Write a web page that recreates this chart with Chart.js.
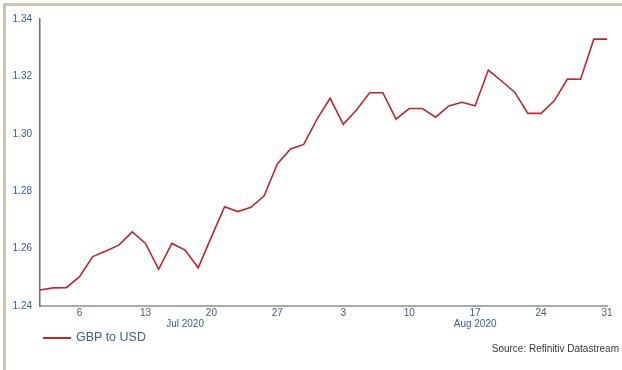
<!DOCTYPE html>
<html>
<head>
<meta charset="utf-8">
<script src="https://cdn.jsdelivr.net/npm/chart.js@4.4.0/dist/chart.umd.min.js"></script>
<style>
  html, body { margin: 0; padding: 0; background: #fff; }
  body { width: 622px; height: 370px; position: relative; overflow: hidden; font-family: "Liberation Sans", Arial, sans-serif; }
  #frame { position: absolute; left: 3px; top: 3px; width: 619px; height: 367px; border-top: 3px solid #cec4b4; border-left: 3px solid #cec4b4; box-sizing: border-box; }
  #wrap { position: absolute; left: 0; top: 0; width: 622px; height: 370px; }
  #legend { position: absolute; left: 43px; top: 329px; height: 16px; font-size: 12.5px; color: #3d5f86; }
  #legend .swatch { position: absolute; left: 0; top: 8px; width: 28px; height: 2px; background: #b8282e; }
  #legend .txt { position: absolute; left: 33px; top: 0; white-space: nowrap; line-height: 16px; }
  #source { position: absolute; right: 3px; top: 343px; font-size: 10px; color: #3a3a3a; white-space: nowrap; line-height: 12px; }
</style>
</head>
<body>
<div id="frame"></div>
<div id="wrap"><canvas id="canvas" width="622" height="370"></canvas></div>
<div id="legend"><span class="swatch"></span><span class="txt">GBP to USD</span></div>
<div id="source">Source: Refinitiv Datastream</div>
<script>
// trading days, Jul-Aug 2020
var dates = [
  '2020-07-01','2020-07-02','2020-07-03','2020-07-06','2020-07-07','2020-07-08','2020-07-09','2020-07-10',
  '2020-07-13','2020-07-14','2020-07-15','2020-07-16','2020-07-17','2020-07-20','2020-07-21','2020-07-22',
  '2020-07-23','2020-07-24','2020-07-27','2020-07-28','2020-07-29','2020-07-30','2020-07-31',
  '2020-08-03','2020-08-04','2020-08-05','2020-08-06','2020-08-07','2020-08-10','2020-08-11','2020-08-12',
  '2020-08-13','2020-08-14','2020-08-17','2020-08-18','2020-08-19','2020-08-20','2020-08-21','2020-08-24',
  '2020-08-25','2020-08-26','2020-08-27','2020-08-28','2020-08-31'
];
var gbpUsd = [
  1.2456, 1.2463, 1.2464, 1.2502, 1.2572, 1.2592, 1.2613, 1.2658,
  1.2618, 1.2528, 1.2618, 1.2595, 1.2533, 1.2641, 1.2746, 1.2729,
  1.2744, 1.2784, 1.2895, 1.2947, 1.2963, 1.3050, 1.3124,
  1.3033, 1.3083, 1.3143, 1.3143, 1.3051, 1.3088, 1.3088, 1.3058,
  1.3097, 1.3110, 1.3098, 1.3222, 1.3184, 1.3145, 1.3071, 1.3071,
  1.3115, 1.3191, 1.3190, 1.3330, 1.3330
];
var weekTicks = ['2020-07-06','2020-07-13','2020-07-20','2020-07-27','2020-08-03','2020-08-10','2020-08-17','2020-08-24','2020-08-31'];
var monthLabels = ['Jul 2020', 'Aug 2020'];
var monthKeys = ['2020-07', '2020-08'];
var yMin = 1.24, yMax = 1.34, yStep = 0.02;

// month label sits under the middle trading day of each month
var monthMid = {};
monthKeys.forEach(function(m, k) {
  var idx = [];
  dates.forEach(function(d, i) { if (d.indexOf(m) === 0) idx.push(i); });
  monthMid[idx[Math.floor(idx.length / 2)]] = monthLabels[k];
});

var tickColor = '#3a6190';

var ctx = document.getElementById('canvas');
window.fxChart = new Chart(ctx, {
  type: 'line',
  data: {
    labels: dates,
    datasets: [{
      label: 'GBP to USD',
      data: gbpUsd,
      borderColor: '#b8282e',
      borderWidth: 1.6,
      pointRadius: 0,
      tension: 0,
      fill: false
    }]
  },
  options: {
    responsive: false,
    animation: false,
    layout: { padding: { top: 19, left: 5, right: 15, bottom: 4 } },
    plugins: {
      legend: { display: false },
      tooltip: { enabled: false }
    },
    scales: {
      x: {
        type: 'category',
        offset: false,
        grid: { display: false, drawTicks: false },
        border: { display: true, color: '#a9a9a9', width: 2 },
        afterFit: function(scale) { scale.height = 60; },
        ticks: {
          autoSkip: false,
          maxRotation: 0,
          padding: 2,
          color: tickColor,
          font: { family: 'Liberation Sans', size: 10, lineHeight: 1.1 },
          callback: function(val, i) {
            var d = dates[i];
            var day = weekTicks.indexOf(d) >= 0 ? String(parseInt(d.slice(8), 10)) : '';
            if (monthMid[i]) return [day, monthLabels[monthLabels.indexOf(monthMid[i])]];
            return day;
          }
        }
      },
      y: {
        min: yMin,
        max: yMax,
        grid: { display: false, drawTicks: false },
        border: { display: true, color: '#707070', width: 1.5 },
        afterFit: function(scale) { scale.width = 35; },
        ticks: {
          stepSize: yStep,
          padding: 8,
          color: tickColor,
          font: { family: 'Liberation Sans', size: 10 },
          callback: function(v) { return v.toFixed(2); }
        }
      }
    }
  }
});
</script>
</body>
</html>
